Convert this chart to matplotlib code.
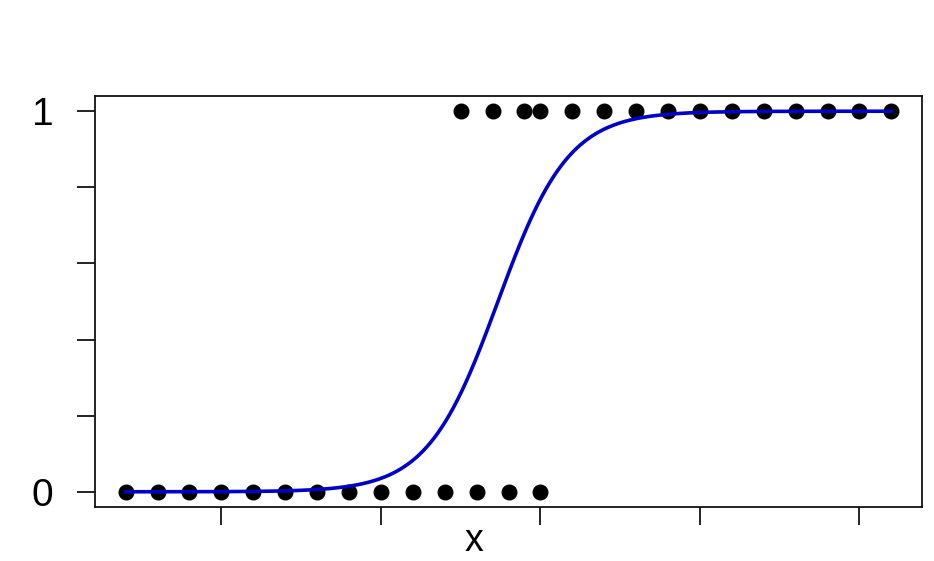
import numpy as np
import matplotlib
matplotlib.use("Agg")
import matplotlib.pyplot as plt

x_zero = [2, 3, 4, 5, 6, 7, 8, 9, 10, 11, 12, 13, 14, 15]
x_one = [12.5, 13.5, 14.5, 15, 16, 17, 18, 19, 20, 21, 22, 23, 24, 25, 26]
x_ticks = [5, 10, 15, 20, 25]
y_ticks = [0, 0.2, 0.4, 0.6, 0.8, 1]
y_labels = ['0', '', '', '', '', '1']


#
#  Logistic fit (IRLS) to get the blue curve
#
def fit_logistic(x, y):
    X = np.column_stack([np.ones_like(x), x])
    b = np.zeros(2)
    for _ in range(50):
        p = 1.0 / (1.0 + np.exp(-X @ b))
        w = p * (1 - p)
        step = np.linalg.solve(X.T @ (X * w[:, None]), X.T @ (y - p))
        b = b + step
        if np.max(np.abs(step)) < 1e-10:
            break
    return b


x_all = np.array(x_zero + x_one, dtype=float)
y_all = np.array([0] * len(x_zero) + [1] * len(x_one), dtype=float)
b0, b1 = fit_logistic(x_all, y_all)

xs = np.linspace(min(x_all), max(x_all), 400)
ys = 1.0 / (1.0 + np.exp(-(b0 + b1 * xs)))

plt.rcParams['font.family'] = ['Liberation Sans', 'DejaVu Sans']

fig = plt.figure(figsize=(9.34, 5.61), dpi=100)
ax = fig.add_axes([95/934, 1 - 507/561, (922-95)/934, (507-96)/561])

ax.plot(x_zero, np.zeros(len(x_zero)), 'o', color='black', ms=10.5, zorder=2)
ax.plot(x_one, np.ones(len(x_one)), 'o', color='black', ms=10.5, zorder=2)
ax.plot(xs, ys, color='#0000C8', lw=2.6, zorder=3)

ax.set_xlim(1.04, 26.96)
ax.set_ylim(-0.04, 1.04)
ax.set_xticks(x_ticks)
ax.set_xticklabels([])
ax.set_yticks(y_ticks)
ax.set_yticklabels(y_labels, fontsize=28)
ax.tick_params(axis='both', length=13, width=1.3, color='#111111', pad=17)
for s in ax.spines.values():
    s.set_linewidth(1.3)
    s.set_color('#111111')
ax.set_xlabel('x', fontsize=27)
ax.xaxis.set_label_coords((474 - 95) / 827, (507 - 541) / 411)
ax.xaxis.label.set_va('center')

fig.savefig('out.png', dpi=100)
